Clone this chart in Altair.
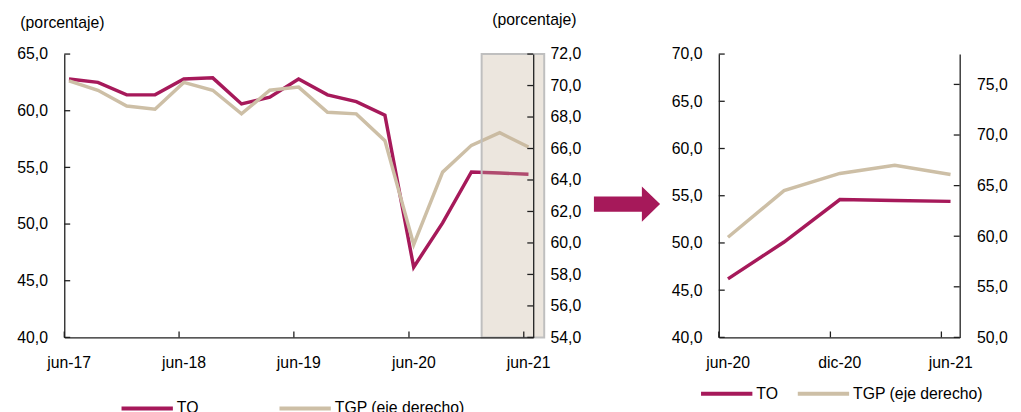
import altair as alt
import pandas as pd

# ---------------- data ----------------
periodos = ["2017-06-01", "2017-09-01", "2017-12-01", "2018-03-01", "2018-06-01",
            "2018-09-01", "2018-12-01", "2019-03-01", "2019-06-01", "2019-09-01",
            "2019-12-01", "2020-03-01", "2020-06-01", "2020-09-01", "2020-12-01",
            "2021-03-01", "2021-06-01"]
to_vals = [62.8, 62.5, 61.4, 61.4, 62.8, 62.9, 60.6, 61.2, 62.8, 61.4,
           60.8, 59.6, 46.2, 50.1, 54.6, 54.5, 54.4]
tgp_vals = [70.3, 69.7, 68.7, 68.5, 70.2, 69.7, 68.2, 69.7, 69.9, 68.3,
            68.2, 66.5, 59.9, 64.5, 66.2, 67.0, 66.1]
n_zoom = 5  # last quarters shown in the right panel

series = ["TO", "TGP (eje derecho)"]
colores = ["#A6195A", "#CDBFA6"]
meses = ["ene", "feb", "mar", "abr", "may", "jun", "jul", "ago", "sep", "oct", "nov", "dic"]

ticks_to_izq = [40, 45, 50, 55, 60, 65]
ticks_tgp_izq = [54, 56, 58, 60, 62, 64, 66, 68, 70, 72]
ticks_to_der = [40, 45, 50, 55, 60, 65, 70]
ticks_tgp_der = [50, 55, 60, 65, 70, 75]
dom_to_izq = [40, 65]
dom_tgp_izq = [54, 72]
dom_to_der = [40, 70]
dom_tgp_der = [50, 78]

xticks_izq = ["2017-06-01", "2018-06-01", "2019-06-01", "2020-06-01", "2021-06-01"]
xticks_der = ["2020-06-01", "2020-12-01", "2021-06-01"]
xdom_izq = ["2017-06-01", "2021-07-01"]
xdom_der = ["2020-06-01", "2021-07-01"]
zoom_box = ["2021-01-18", "2021-08-05"]

# ---------------- style ----------------
FONT = "Liberation Sans"
FS = 16
AX = "#1f1f1f"
W1, W2, H = 475, 244, 287
ARROW = "M -1 -0.23 L 0.45 -0.23 L 0.45 -0.53 L 1 0 L 0.45 0.53 L 0.45 0.23 L -1 0.23 Z"

num_expr = "replace(format(datum.value, '.1f'), '.', ',')"
mes_arr = "[" + ",".join("'%s'" % m for m in meses) + "]"
date_expr = mes_arr + "[utcmonth(datum.value)] + '-' + utcFormat(datum.value, '%y')"


def dt(s):
    y, m, d = (int(p) for p in s.split("-"))
    return alt.DateTime(year=y, month=m, date=d, utc=True)


def xscale(dom):
    return alt.Scale(type="utc", domain=[dt(dom[0]), dt(dom[1])])


def xaxis(vals, loff):
    return alt.Axis(values=[dt(v) for v in vals], labelExpr=date_expr, ticks=False,
                    labelPadding=18, labelOffset=loff, labelFlush=False,
                    labelOverlap=False, domainColor=AX, domainWidth=1.3,
                    grid=False, title=None, labelFontSize=FS, labelColor="#000",
                    labelFont=FONT, zindex=1)


def yaxis(orient, vals, title=None, tx=0, ty=0):
    if title:
        kw = dict(title=title, titleAngle=0, titleAlign="left", titleBaseline="middle",
                  titleX=tx, titleY=ty, titleFontWeight="normal", titleFontSize=FS,
                  titleFont=FONT, titleColor="#000")
    else:
        kw = dict(title=None)
    return alt.Axis(orient=orient, values=vals, labelExpr=num_expr, ticks=False,
                    labelPadding=17, labelFlush=False, domainColor=AX, domainWidth=1.3,
                    grid=False, labelFontSize=FS, labelColor="#000", labelFont=FONT,
                    zindex=1, **kw)


def legend(lx, ly, colpad):
    return alt.Legend(orient="none", legendX=lx, legendY=ly, direction="horizontal",
                      title=None, symbolType="stroke", symbolStrokeWidth=4,
                      symbolSize=2704, labelFontSize=FS, labelFont=FONT,
                      labelColor="#000", labelOffset=2, columnPadding=colpad,
                      padding=0)


def panel(fechas, to, tgp, xdom, xticks, loff, w, dto, dtgp, tto, ttgp,
          leg, titles, extra):
    color_scale = alt.Scale(domain=series, range=colores)
    xs = xscale(xdom)
    xa = xaxis(xticks, loff)
    df_to = pd.DataFrame({"fecha": fechas, "valor": to, "serie": series[0]})
    df_tgp = pd.DataFrame({"fecha": fechas, "valor": tgp, "serie": series[1]})
    xenc = alt.X("fecha:T", timeUnit="utcyearmonth", bandPosition=0.5, scale=xs, axis=xa)

    to_line = alt.Chart(df_to).mark_line(strokeWidth=3.5).encode(
        x=xenc,
        y=alt.Y("valor:Q", scale=alt.Scale(domain=dto),
                axis=yaxis("left", tto, *titles[0])),
        color=alt.Color("serie:N", scale=color_scale, legend=leg),
    )
    tgp_line = alt.Chart(df_tgp).mark_line(strokeWidth=3.5).encode(
        x=xenc,
        y=alt.Y("valor:Q", scale=alt.Scale(domain=dtgp),
                axis=yaxis("right", ttgp, *titles[1])),
        color=alt.Color("serie:N", scale=color_scale, legend=leg),
    )
    to_ticks = alt.Chart(pd.DataFrame({"v": tto})).mark_rule(color=AX, strokeWidth=1.3).encode(
        y=alt.Y("v:Q", scale=alt.Scale(domain=dto), axis=None),
        x=alt.value(0), x2=alt.value(6))
    tgp_ticks = alt.Chart(pd.DataFrame({"v": ttgp})).mark_rule(color=AX, strokeWidth=1.3).encode(
        y=alt.Y("v:Q", scale=alt.Scale(domain=dtgp), axis=None),
        x=alt.value(w - 6), x2=alt.value(w))
    x_ticks = alt.Chart(pd.DataFrame({"t": xticks})).mark_rule(color=AX, strokeWidth=1.3).encode(
        x=alt.X("t:T", scale=xs, axis=xa),
        y=alt.value(H - 6), y2=alt.value(H))
    layers = [to_line, tgp_line] + extra + [to_ticks, tgp_ticks, x_ticks]
    return alt.layer(*layers).resolve_scale(y="independent").properties(width=w, height=H)


# highlight box and arrow (left panel only)
box = alt.Chart(pd.DataFrame({"ini": [zoom_box[0]], "fin": [zoom_box[1]]})).mark_rect(
    fill="#C6B49B", fillOpacity=0.33, stroke="#BFBFBF", strokeWidth=2).encode(
    x=alt.X("ini:T", scale=xscale(xdom_izq), axis=xaxis(xticks_izq, 4.5)),
    x2="fin:T", y=alt.value(0), y2=alt.value(H))
arrow = alt.Chart(pd.DataFrame({"k": [0]})).mark_point(
    shape=ARROW, filled=True, size=4489, color="#A6195A", opacity=1, strokeWidth=0).encode(
    x=alt.value(570), y=alt.value(152))

left = panel(periodos, to_vals, tgp_vals, xdom_izq, xticks_izq, 4.5, W1,
             dom_to_izq, dom_tgp_izq, ticks_to_izq, ticks_tgp_izq,
             legend(56, 331, 74),
             [("(porcentaje)", -45, -32), ("(porcentaje)", -42, -35)],
             [box, arrow])
right = panel(periodos[-n_zoom:], to_vals[-n_zoom:], tgp_vals[-n_zoom:], xdom_der,
              xticks_der, 9, W2, dom_to_der, dom_tgp_der, ticks_to_der, ticks_tgp_der,
              legend(-20, 316, 12), [(), ()], [])

chart = alt.HConcatChart(hconcat=[left, right], spacing=188, bounds="flush").resolve_scale(
    color="independent").properties(
    padding={"left": 8, "top": 1, "right": 5, "bottom": 0}).configure(
    font=FONT).configure_view(stroke=None)

chart.save("out.html", embed_options={"renderer": "svg", "actions": False})
